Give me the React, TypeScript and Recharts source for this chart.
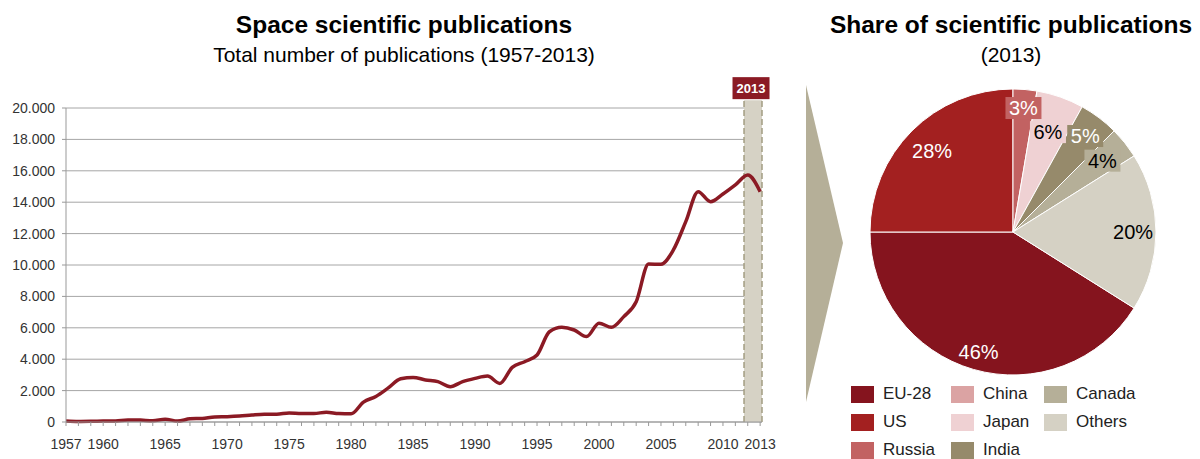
import React from "react";
import {
  LineChart,
  Line,
  XAxis,
  YAxis,
  CartesianGrid,
  ReferenceArea,
  ReferenceLine,
  PieChart,
  Pie,
  Cell,
} from "recharts";

// publications per year
const years = [
  1957, 1958, 1959, 1960, 1961, 1962, 1963, 1964, 1965, 1966, 1967, 1968, 1969,
  1970, 1971, 1972, 1973, 1974, 1975, 1976, 1977, 1978, 1979, 1980, 1981, 1982,
  1983, 1984, 1985, 1986, 1987, 1988, 1989, 1990, 1991, 1992, 1993, 1994, 1995,
  1996, 1997, 1998, 1999, 2000, 2001, 2002, 2003, 2004, 2005, 2006, 2007, 2008,
  2009, 2010, 2011, 2012, 2013,
];
const publications = [
  60, 30, 40, 60, 70, 130, 120, 80, 180, 60, 200, 230, 320,
  340, 380, 450, 500, 500, 570, 540, 540, 620, 540, 520, 1270, 1630,
  2170, 2750, 2840, 2680, 2570, 2250, 2570, 2780, 2930, 2460, 3480, 3840, 4270,
  5750, 6030, 5860, 5440, 6290, 6030, 6710, 7660, 10060, 10040, 10960, 12760, 14670,
  14030, 14520, 15100, 15730, 14670,
];
const labeledYears = [1957, 1960, 1965, 1970, 1975, 1980, 1985, 1990, 1995, 2000, 2005, 2010, 2013];
const yTicks = [0, 2000, 4000, 6000, 8000, 10000, 12000, 14000, 16000, 18000, 20000];
const HIGHLIGHT_YEAR = 2013;

// 2013 shares (labels sum to 112 -> pie normalises)
const countries = ["EU-28", "US", "Russia", "China", "Japan", "India", "Canada", "Others"];
const shares = [46, 28, 3, 0, 6, 5, 4, 20];

const COLORS = ["#85141E", "#A32020", "#C26262", "#DBA3A3", "#EFD1D3", "#968A6B", "#B5AF98", "#D5D1C4"];
const LABEL_COLORS = ["#fff", "#fff", "#fff", "#000", "#000", "#fff", "#000", "#000"];
const LABEL_R = [0.87, 0.8, 0.87, 0.8, 0.74, 0.84, 0.8, 0.84];

const lineData = years.map((y, i) => ({ year: y, v: publications[i] }));
const pieData = countries.map((c, i) => ({ name: c, value: shares[i] }));
const total = shares.reduce((a, b) => a + b, 0);
const startAngle = 180 + (shares[0] / total) * 360;

const fmtThousands = (v: number) => String(v).replace(/\B(?=(\d{3})+(?!\d))/g, ".");

const XTick = (props: any) => {
  const { x, y, payload } = props;
  if (!labeledYears.includes(payload.value)) return null;
  return (
    <text x={x} y={y} dy={21} textAnchor="middle" fontSize={14} fill="#333">
      {payload.value}
    </text>
  );
};

const YearBadge = (props: any) => {
  const vb = props.viewBox;
  if (!vb) return null;
  const cx = vb.x + vb.width / 2 - 2;
  return (
    <g>
      <rect x={cx - 18.5} y={vb.y - 23} width={37} height={22} fill="#8B1A24" />
      <text x={cx} y={vb.y - 12} textAnchor="middle" dominantBaseline="central" fill="#fff" fontSize={13} fontWeight="bold">
        {HIGHLIGHT_YEAR}
      </text>
    </g>
  );
};

const RADIAN = Math.PI / 180;
const pieLabel = (p: any) => {
  const { cx, cy, midAngle, outerRadius, index, value } = p;
  if (!value) return null;
  const r = outerRadius * LABEL_R[index];
  const x = cx + r * Math.cos(-midAngle * RADIAN);
  const y = cy + r * Math.sin(-midAngle * RADIAN);
  const small = value <= 6;
  return (
    <g>
      {small && <rect x={x - 18} y={y - 11} width={36} height={22} fill={COLORS[index]} />}
      <text x={x} y={y} textAnchor="middle" dominantBaseline="central" fontSize={20} fill={LABEL_COLORS[index]}>
        {value}%
      </text>
    </g>
  );
};

export default function App() {
  return (
    <div
      style={{
        position: "absolute",
        left: 0,
        top: 0,
        width: 1200,
        height: 459,
        background: "#fff",
        fontFamily: "'Liberation Sans', Arial, sans-serif",
        color: "#000",
      }}
    >
      <div style={{ position: "absolute", left: 0, top: 13, width: 808, textAlign: "center", fontSize: 24.5, lineHeight: "24px", fontWeight: "bold" }}>
        Space scientific publications
      </div>
      <div style={{ position: "absolute", left: 0, top: 45, width: 808, textAlign: "center", fontSize: 21, lineHeight: "20px" }}>
        Total number of publications (1957-2013)
      </div>
      <div style={{ position: "absolute", left: 811, top: 13, width: 400, textAlign: "center", fontSize: 24.5, lineHeight: "24px", fontWeight: "bold" }}>
        Share of scientific publications
      </div>
      <div style={{ position: "absolute", left: 811, top: 45, width: 400, textAlign: "center", fontSize: 21, lineHeight: "20px" }}>
        (2013)
      </div>

      <div style={{ position: "absolute", left: 0, top: 0 }}>
        <LineChart width={800} height={459} data={lineData} margin={{ top: 108, right: 38, bottom: 7, left: 6 }}>
          <ReferenceArea
            x1={2011.7}
            x2={2013.15}
            y1={0}
            y2={20500}
            fill="#D6D2C5"
            fillOpacity={1}
            ifOverflow="visible"
            label={<YearBadge />}
          />
          <CartesianGrid vertical={false} stroke="#A6A6A6" />
          <ReferenceLine
            segment={[{ x: 2011.7, y: 0 }, { x: 2011.7, y: 20500 }]}
            stroke="#A39D82"
            strokeWidth={1.5}
            strokeDasharray="6 3"
            ifOverflow="visible"
          />
          <ReferenceLine
            segment={[{ x: 2013.15, y: 0 }, { x: 2013.15, y: 20500 }]}
            stroke="#A39D82"
            strokeWidth={1.5}
            strokeDasharray="6 3"
            ifOverflow="visible"
          />
          <XAxis
            dataKey="year"
            type="number"
            domain={[1957, 2013.15]}
            ticks={years}
            interval={0}
            tick={<XTick />}
            tickSize={4}
            tickLine={{ stroke: "#999" }}
            axisLine={{ stroke: "#999" }}
            height={30}
            allowDataOverflow
          />
          <YAxis
            domain={[0, 20000]}
            ticks={yTicks}
            tickFormatter={fmtThousands}
            tick={{ fontSize: 14, fill: "#333" }}
            tickSize={4}
            tickMargin={7}
            tickLine={{ stroke: "#999" }}
            axisLine={{ stroke: "#999" }}
            width={60}
          />
          <Line
            type="monotone"
            dataKey="v"
            stroke="#8B1A24"
            strokeWidth={3.5}
            dot={false}
            isAnimationActive={false}
          />
        </LineChart>
      </div>

      <svg style={{ position: "absolute", left: 800, top: 80 }} width={50} height={330}>
        <polygon points="6,5 43,163 6,322" fill="#B5AF98" />
      </svg>

      <div style={{ position: "absolute", left: 800, top: 0 }}>
        <PieChart width={400} height={459} margin={{ top: 0, right: 0, bottom: 0, left: 0 }}>
          <Pie
            data={pieData}
            dataKey="value"
            cx={213}
            cy={232}
            outerRadius={143}
            startAngle={startAngle}
            endAngle={startAngle - 360}
            stroke="#fff"
            strokeWidth={1}
            label={pieLabel}
            labelLine={false}
            isAnimationActive={false}
          >
            {pieData.map((d, i) => (
              <Cell key={d.name} fill={COLORS[i]} />
            ))}
          </Pie>
        </PieChart>
      </div>

      <div
        style={{
          position: "absolute",
          left: 851,
          top: 380,
          display: "grid",
          gridTemplateColumns: "100px 93px auto",
          gridTemplateRows: "28px 28px 28px",
          gridAutoFlow: "column",
          fontSize: 17,
          color: "#222",
        }}
      >
        {countries.map((c, i) => (
          <div key={c} style={{ display: "flex", alignItems: "center" }}>
            <span style={{ width: 23, height: 17, background: COLORS[i], marginRight: 9, display: "inline-block" }} />
            <span>{c}</span>
          </div>
        ))}
      </div>
    </div>
  );
}
